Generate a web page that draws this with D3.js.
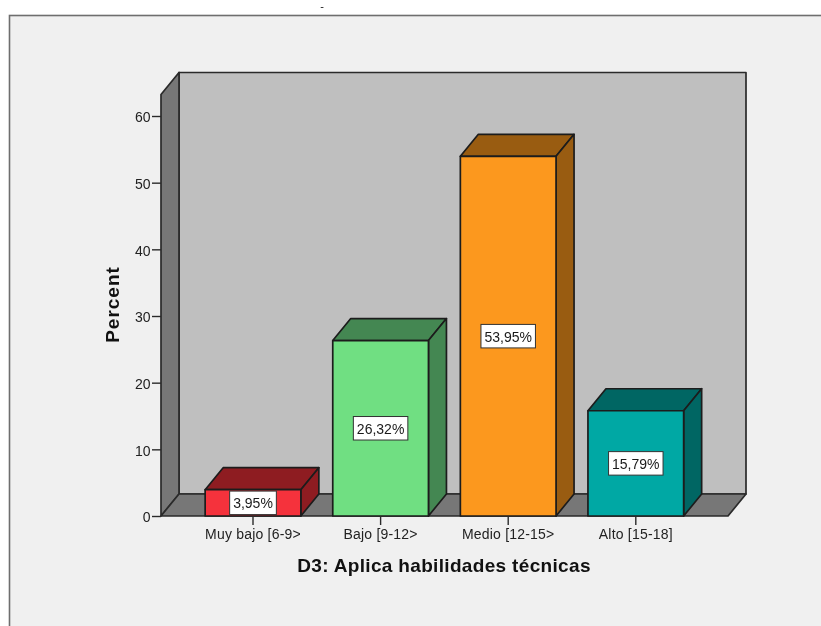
<!DOCTYPE html>
<html><head><meta charset="utf-8">
<script src="https://cdn.jsdelivr.net/npm/d3@7"></script>
<style>html,body{margin:0;padding:0;background:#fff;overflow:hidden}svg{display:block;filter:blur(0.35px)}text{font-family:"Liberation Sans",Arial,sans-serif}</style>
</head><body><svg id="c" width="821" height="626"></svg>
<script>
const categories = ["Muy bajo [6-9>", "Bajo [9-12>", "Medio [12-15>", "Alto [15-18]"];
const percents = [3.95, 26.32, 53.95, 15.79];
const labels = ["3,95%", "26,32%", "53,95%", "15,79%"];
const frontColors = ["#f5323c", "#70df82", "#fc981e", "#00a8a4"];
const sideColors = ["#8e1c21", "#448752", "#995c11", "#006663"];
const yTicks = [0, 10, 20, 30, 40, 50, 60];
const xTitle = "D3: Aplica habilidades técnicas";
const yTitle = "Percent";

const svg = d3.select("#c");
const line = "#2a2a2a";
const dx = 18, dy = -22;
const y = d3.scaleLinear().domain([0, 60]).range([516, 116]);
const x = d3.scaleBand().domain(categories).range([189.2, 699.6]).paddingInner(0.25).paddingOuter(0.125);
const floorL = 161, floorR = 728, wallTop = 94.5;
const fontFamily = '"Liberation Sans",Arial,sans-serif';

// outer frame
svg.append("rect").attr("x", 9.5).attr("y", 15.5).attr("width", 830).attr("height", 640)
  .attr("fill", "#f0f0f0").attr("stroke", "#6e6e6e").attr("stroke-width", 1.6);
svg.append("text").attr("x", 322).attr("y", 10).attr("text-anchor", "middle").attr("font-size", 11).attr("fill", "#111").text("-");

const poly = (pts, fill, sw = 1.7) => svg.append("path").attr("d", d3.line()(pts) + "Z")
  .attr("fill", fill).attr("stroke", line).attr("stroke-width", sw).attr("stroke-linejoin", "round");

// walls
poly([[floorL + dx, wallTop + dy], [floorR + dx, wallTop + dy], [floorR + dx, 516 + dy], [floorL + dx, 516 + dy]], "#bfbfbf");
poly([[floorL, wallTop], [floorL + dx, wallTop + dy], [floorL + dx, 516 + dy], [floorL, 516]], "#777777");
poly([[floorL, 516], [floorL + dx, 516 + dy], [floorR + dx, 516 + dy], [floorR, 516]], "#777777");

// bars
svg.append("g").selectAll("g").data(categories).join("g").each(function (c, i) {
  const g = d3.select(this), x0 = x(c), x1 = x0 + x.bandwidth(), yt = y(percents[i]), yb = y(0);
  const p = (pts, fill) => g.append("path").attr("d", d3.line()(pts) + "Z").attr("fill", fill)
    .attr("stroke", "#1c1c1c").attr("stroke-width", 1.7).attr("stroke-linejoin", "round");
  p([[x0, yt], [x0 + dx, yt + dy], [x1 + dx, yt + dy], [x1, yt]], sideColors[i]);
  p([[x1, yt], [x1 + dx, yt + dy], [x1 + dx, yb + dy], [x1, yb]], sideColors[i]);
  p([[x0, yt], [x1, yt], [x1, yb], [x0, yb]], frontColors[i]);
});

// y axis
const yAxis = svg.append("g").attr("transform", `translate(${floorL},0)`)
  .call(d3.axisLeft(y).tickValues(yTicks).tickSize(9).tickPadding(1.5).tickFormat(d3.format("d")));
yAxis.select(".domain").remove();
yAxis.selectAll("line").attr("stroke", line).attr("stroke-width", 1.4);
yAxis.selectAll("text").attr("font-size", 14).attr("fill", "#222").attr("dy", "0.42em").style("font-family", fontFamily);

// x axis
const xAxis = svg.append("g").attr("transform", "translate(0,516)")
  .call(d3.axisBottom(x).tickSize(9).tickPadding(4));
xAxis.select(".domain").remove();
xAxis.selectAll("line").attr("stroke", line).attr("stroke-width", 1.4);
xAxis.selectAll("text").attr("font-size", 14).attr("letter-spacing", 0.2).attr("fill", "#222").style("font-family", fontFamily);

// value labels
svg.append("g").selectAll("g").data(categories).join("g").each(function (c, i) {
  const g = d3.select(this), cx = x(c) + x.bandwidth() / 2;
  const cy = (y(percents[i]) + y(0)) / 2;
  const t = g.append("text").attr("x", cx).attr("y", cy + 0.6).attr("text-anchor", "middle")
    .attr("dominant-baseline", "central").attr("font-size", 14).attr("fill", "#1a1a1a").text(labels[i]);
  const w = t.node().getComputedTextLength() + 7;
  g.insert("rect", "text").attr("x", cx - w / 2).attr("y", cy - 11.75).attr("width", w).attr("height", 23.5)
    .attr("fill", "#fff").attr("stroke", "#333").attr("stroke-width", 1);
});

// titles
svg.append("text").attr("x", 444).attr("y", 572.3).attr("text-anchor", "middle").attr("font-size", 19)
  .attr("letter-spacing", 0.33).attr("font-weight", "bold").attr("fill", "#111").text(xTitle);
svg.append("text").attr("transform", "translate(119,304.5) rotate(-90)").attr("text-anchor", "middle")
  .attr("font-size", 19).attr("letter-spacing", 1).attr("font-weight", "bold").attr("fill", "#111").text(yTitle);
</script></body></html>
